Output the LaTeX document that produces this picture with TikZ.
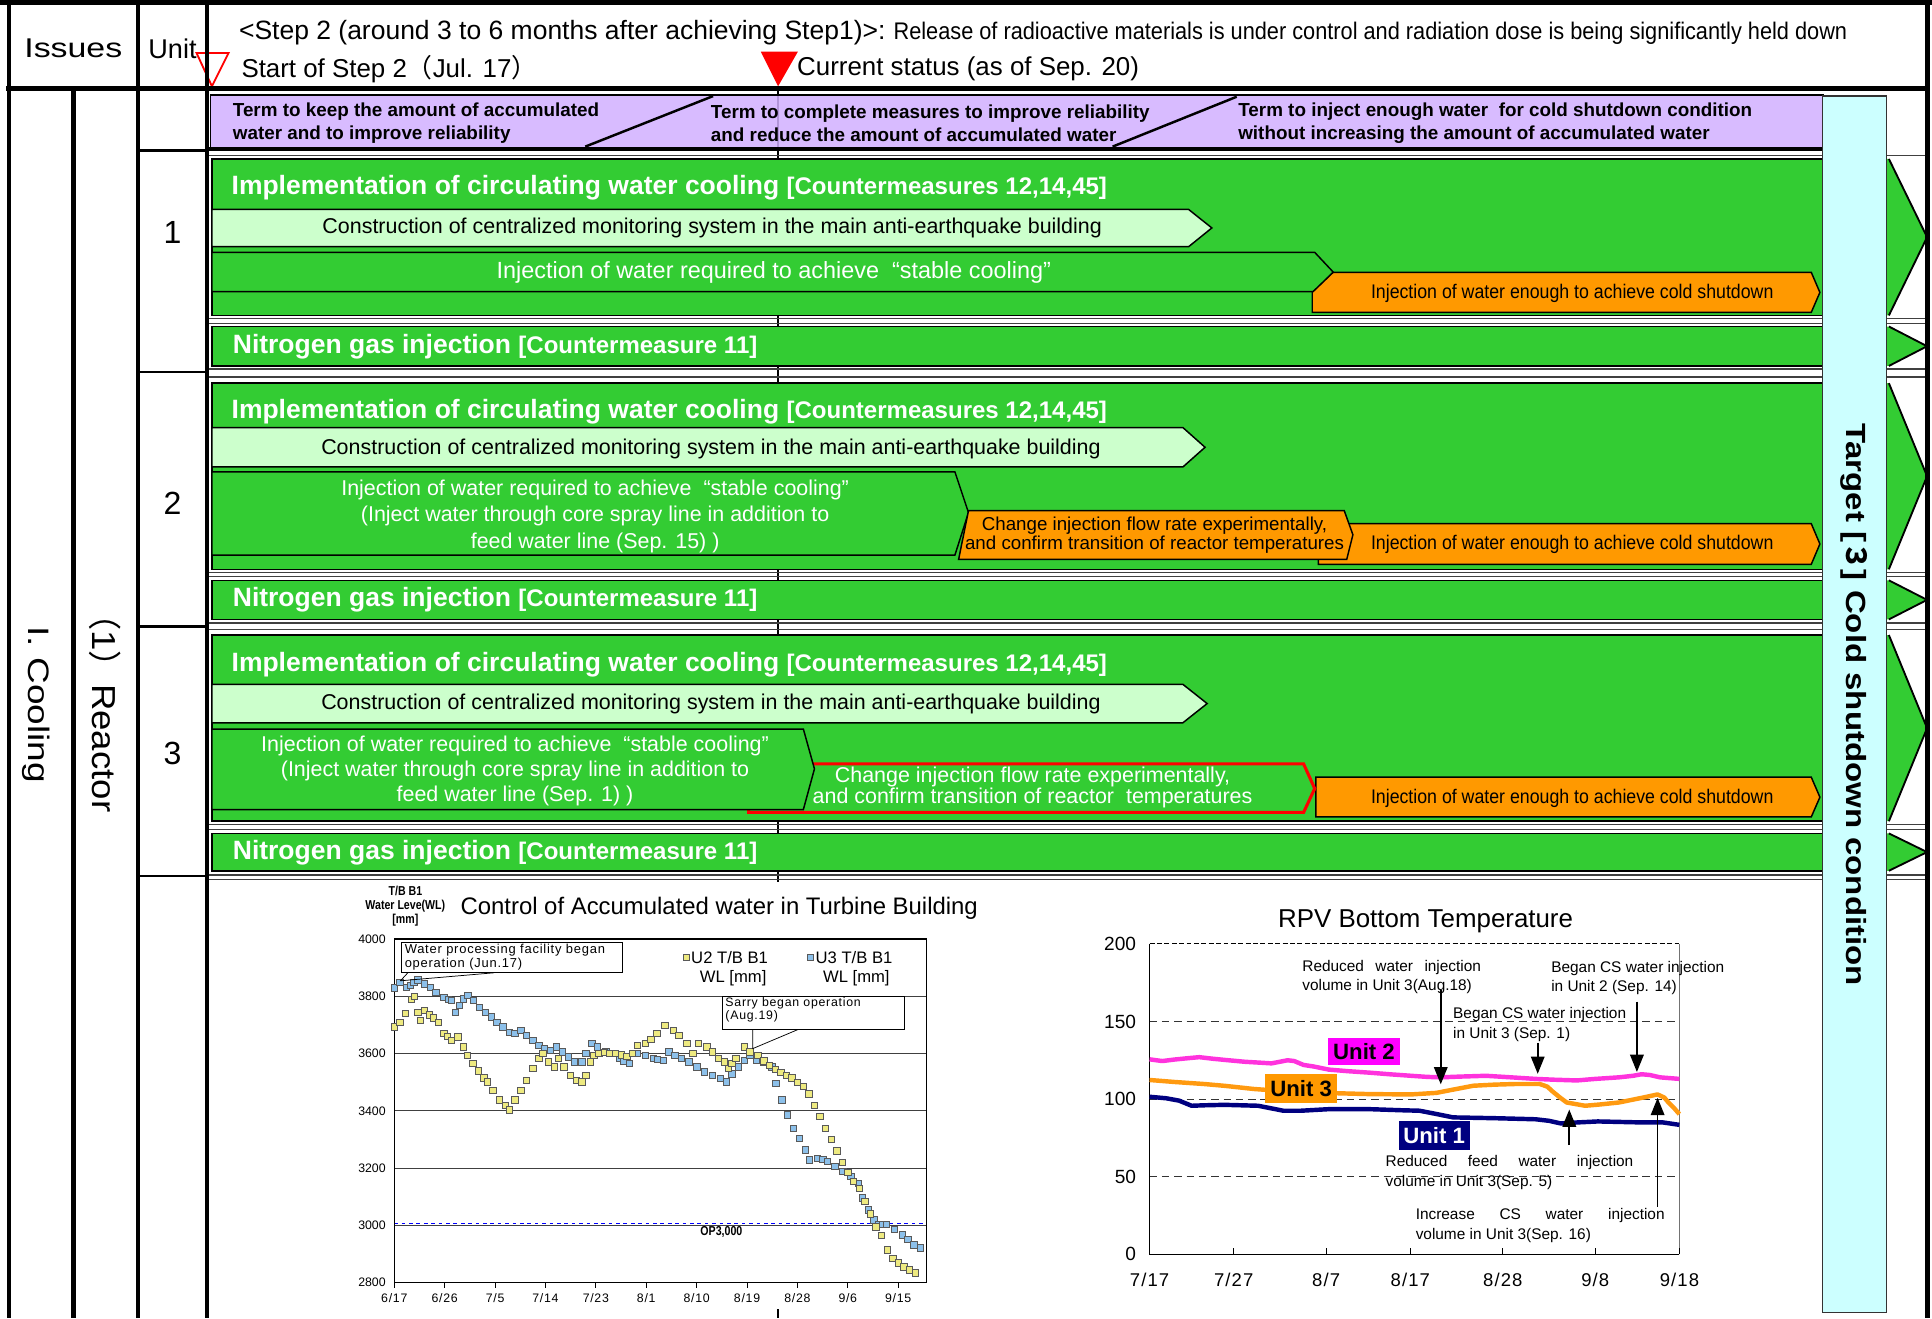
\documentclass[tikz,border=0pt]{standalone}
\usepackage{fontspec}
\setmainfont{Liberation Sans}
\newfontfamily\cjkf{Noto Sans CJK JP}
\newfontfamily\fA[FakeStretch=0.82]{Liberation Sans}
\newfontfamily\fB[FakeStretch=0.9]{Liberation Sans}
\newfontfamily\fC[FakeStretch=0.905]{Liberation Sans}
\newfontfamily\fW[FakeStretch=1.25]{Liberation Sans}
\newfontfamily\fWb[FakeStretch=1.19]{Liberation Sans}
\newfontfamily\fWc[FakeStretch=1.1]{Liberation Sans}
\newfontfamily\fLS[LetterSpace=6]{Liberation Sans}
\usetikzlibrary{arrows.meta}
\newcommand\fsz[1]{\fontsize{#1}{#1}\selectfont}
\newcommand\fszl[2]{\fontsize{#1}{#2}\selectfont}
\definecolor{grn}{HTML}{33CC33}
\definecolor{lgrn}{HTML}{CCFFCC}
\definecolor{org}{HTML}{FF9900}
\definecolor{pur}{HTML}{D2B0FF}
\definecolor{cyn}{HTML}{CCFFFF}
\definecolor{mag}{HTML}{FF33DD}
\definecolor{magb}{HTML}{FF00FF}
\definecolor{nav}{HTML}{000080}
\definecolor{u2y}{HTML}{EEEA80}
\definecolor{u3b}{HTML}{8CC0EA}
\definecolor{u3o}{HTML}{FF9A10}
\tikzset{
  every node/.style={inner sep=0pt, outer sep=0pt},
  frm/.style={line width=4pt},
  cell/.style={line width=2pt},
  sepl/.style={line width=1.2pt, black!75},
  gblk/.style={fill=grn, draw=black, line width=1.2pt},
  lgar/.style={fill=lgrn, draw=black, line width=1.2pt},
  obox/.style={fill=org, draw=black, line width=1.2pt},
  ttl/.style={anchor=west, text=white, font=\bfseries\fsz{21.5}},
  ltxt/.style={font=\fsz{17.4}},
  wtxt/.style={text=white, align=center},
  otxt/.style={font=\fB\fsz{16}},
  ptxt/.style={anchor=west, align=left, font=\bfseries\fszl{15.3}{19}},
  ann/.style={anchor=north west, align=left, font=\fszl{12.5}{16}},
  arr/.style={-{Triangle[width=11pt,length=14pt]}, line width=1.3pt},
  u2m/.style={fill=u2y, draw=black!65, line width=0.4pt},
  u3m/.style={fill=u3b, draw=black!65, line width=0.4pt},
  rarw/.style={fill=grn},
  rarl/.style={line width=1.5pt},
}
\begin{document}
\begin{tikzpicture}[x=1pt,y=-1pt]
\useasboundingbox (0,0) rectangle (1568,1070);
\fill[white] (0,0) rectangle (1568,1070);

% current status line
\coordinate (cs1) at (631.5,72);
\coordinate (cs2) at (631.5,1070);
\draw[line width=1.5pt] (cs1) -- (cs2);

% separator lines
\foreach \yy in {126,258.5,262.5,299.5,306,464.5,468,505.5,511,669,673,710,714}
  \draw[sepl] (168,\yy) -- (1564,\yy);
\foreach \yy in {122,302,508.5,711}
  \draw[cell] (112,\yy) -- (168,\yy);

% purple band
\fill[pur, fill opacity=0.85] (170.8,77) rectangle (1480,119.5);
\draw[line width=1.2pt] (170.8,77) rectangle (1480,119.5);
\draw[line width=3pt] (168,121) -- (1480,121);
\draw[line width=2pt] (475,119) -- (578.7,78);
\draw[line width=2pt] (903,119) -- (1003.7,78.5);
\node[ptxt] (p1) at (189,100) {Term to keep the amount of accumulated\\water and to improve reliability};
\node[ptxt] (p2) at (577,100) {Term to complete measures to improve reliability\\and reduce the amount of accumulated water};
\node[ptxt] (p3) at (1005,100) {Term to inject enough water~ for cold shutdown condition\\without increasing the amount of accumulated water};

% ---------- Unit 1 ----------
\draw[gblk] (172,129) rectangle (1480,256);
\node[ttl] (t1) at (188,152) {Implementation of circulating water cooling {\fsz{19.5}[Countermeasures 12,14,45]}};
\draw[lgar] (172,170) -- (964.7,170) -- (983.5,185) -- (964.7,200.2) -- (172,200.2) -- cycle;
\node[ltxt] (c1) at (578,185.3) {Construction of centralized monitoring system in the main anti-earthquake building};
\draw[gblk] (172,204.8) -- (1067,204.8) -- (1082,220.8) -- (1067,236.7) -- (172,236.7) -- cycle;
\node[wtxt, font=\fsz{19}] (s1) at (628,221.5) {Injection of water required to achieve~ “stable cooling”};
\draw[obox] (1082,221) -- (1470,221) -- (1477,237.3) -- (1470,253.5) -- (1065,253.5) -- (1065,237.3) -- cycle;
\node[otxt] (o1) at (1276,238) {Injection of water enough to achieve cold shutdown};
\draw[gblk] (172,265) rectangle (1480,297);
\node[ttl] (n1) at (189,281.4) {Nitrogen gas injection {\fsz{19.5}[Countermeasure 11]}};

% ---------- Unit 2 ----------
\draw[gblk] (172,311) rectangle (1480,462);
\node[ttl] (t2) at (188,334) {Implementation of circulating water cooling {\fsz{19.5}[Countermeasures 12,14,45]}};
\draw[lgar] (172,347) -- (960,347) -- (978,363) -- (960,379) -- (172,379) -- cycle;
\node[ltxt] (c2) at (577,364) {Construction of centralized monitoring system in the main anti-earthquake building};
\draw[gblk] (172,383) -- (775,383) -- (786,416) -- (775,450.5) -- (172,450.5) -- cycle;
\node[wtxt, font=\fszl{17.4}{21.5}] (s2) at (483,419) {Injection of water required to achieve~ “stable cooling”\\(Inject water through core spray line in addition to\\feed water line (Sep. 15) )};
\draw[obox] (1070,425) -- (1470,425) -- (1477,441.5) -- (1470,458) -- (1070,458) -- cycle;
\node[otxt] (o2b) at (1276,442) {Injection of water enough to achieve cold shutdown};
\draw[obox] (786,414.5) -- (1091,414.5) -- (1098,434) -- (1093,454) -- (778,454) -- cycle;
\node[align=center, font=\fszl{15.2}{15.5}] (o2a) at (937,434) {Change injection flow rate experimentally,\\and confirm transition of reactor temperatures};
\draw[gblk] (172,471) rectangle (1480,502.7);
\node[ttl] (n2) at (189,487) {Nitrogen gas injection {\fsz{19.5}[Countermeasure 11]}};

% ---------- Unit 3 ----------
\draw[gblk] (172,515.4) rectangle (1480,666.5);
\node[ttl] (t3) at (188,539.8) {Implementation of circulating water cooling {\fsz{19.5}[Countermeasures 12,14,45]}};
\draw[lgar] (172,555.4) -- (960,555.4) -- (979.7,571) -- (960,586.6) -- (172,586.6) -- cycle;
\node[ltxt] (c3) at (577,571) {Construction of centralized monitoring system in the main anti-earthquake building};
\draw[obox] (1068,630.7) -- (1470,630.7) -- (1477,647) -- (1470,663) -- (1068,663) -- cycle;
\node[otxt] (o3) at (1276,648) {Injection of water enough to achieve cold shutdown};
\draw[fill=grn, draw=red, line width=2.5pt] (607.6,620) -- (1058,620) -- (1067,640) -- (1058,659.3) -- (607.6,659.3) -- cycle;
\node[wtxt, font=\fszl{17.4}{17.6}] (r3) at (838,639.2) {Change injection flow rate experimentally,\\and confirm transition of reactor~ temperatures};
\draw[gblk] (172,591.7) -- (652,591.7) -- (661,624) -- (652,657) -- (172,657) -- cycle;
\node[wtxt, font=\fszl{17.4}{20.3}] (s3) at (418,626) {Injection of water required to achieve~ “stable cooling”\\(Inject water through core spray line in addition to\\feed water line (Sep. 1) )};
\draw[gblk] (172,676.4) rectangle (1480,706.7);
\node[ttl] (n3) at (189,692) {Nitrogen gas injection {\fsz{19.5}[Countermeasure 11]}};

% right arrows
\foreach \ta/\tb in {129/256, 265/297, 311/462, 471/502.7, 515.4/666.5, 676.4/706.7}{
  \fill[rarw] (1531,\ta) -- (1533,\ta) -- (1564,{(\ta+\tb)/2}) -- (1533,\tb) -- (1531,\tb) -- cycle;
  \draw[rarl] (1533,\ta) -- (1564,{(\ta+\tb)/2}) -- (1533,\tb);
}

% cyan target bar
\filldraw[fill=cyn, draw=black!80, line width=1.2pt] (1479,78) rectangle (1531,1065);
\node[rotate=-90, font=\fWb\bfseries\fsz{22.5}] (tgt) at (1505,572) {Target [{\cjkf ３}] Cold shutdown condition};

% ---------- header ----------
\node[anchor=west, font=\fsz{21.5}] (h1) at (194,26.5) {<Step 2 (around 3 to 6 months after achieving Step1)>:{\fC\fsz{19.5} Release of radioactive materials is under control and radiation dose is being significantly held down}};
\node[anchor=west, font=\fsz{21}] (h2) at (196,56) {Start of Step 2{\cjkf （}Jul. 17{\cjkf ）}};
\node[anchor=west, font=\fsz{21}] (h3) at (647,56) {Current status (as of Sep. 20)};
\draw[red, line width=1.5pt] (159.5,43) -- (185.5,43) -- (172,70) -- cycle;
\fill[red] (617.5,42) -- (647.5,42) -- (631.5,70) -- cycle;
\node[font=\fW\fsz{22}] (iss) at (59.5,39.5) {Issues};
\node[font=\fsz{22}] (unt) at (140,39.5) {Unit};
\node[rotate=-90, font=\fW\fsz{24}] (cool) at (29,572) {I. Cooling};
\node[rotate=-90, font=\fWc\fsz{27}] (reac) at (85,572) {{\cjkf （}1{\cjkf ）}Reactor};
\node[font=\fsz{26}] (u1) at (140,189) {1};
\node[font=\fsz{26}] (u2) at (140,408.7) {2};
\node[font=\fsz{26}] (u3) at (140,611.6) {3};

% ---------- chart 1 ----------
\fill[white] (285,716) rectangle (800,1062);
\node[align=center, font=\fA\bfseries\fszl{10.5}{11.2}] (ylab) at (329,735.5) {T/B B1\\Water Leve(WL)\\{[mm]}};
\node[anchor=west, font=\fsz{19.4}] (ct1) at (373.8,737.5) {Control of Accumulated water in Turbine Building};
\begin{scope}[shift={(320,1041)}, x=4.544pt, y=0.2325pt]
  \foreach \v in {200,400,600,800,1000}
    \draw[line width=0.7pt, black!75] (0,\v) -- (95.07,\v);
  \draw[blue, dashed, line width=0.9pt] (0,206) -- (95.07,206);
  \draw[line width=1pt] (0,0) rectangle (95.07,1200);
  \foreach \v/\lab in {0/2800,200/3000,400/3200,600/3400,800/3600,1000/3800,1200/4000}
    \node[anchor=east, font=\fsz{10}] (ya\lab) at ([xshift=-7pt]0,\v) {\lab};
  \foreach \d/\m/\dd in {0/6/17,9/6/26,18/7/5,27/7/14,36/7/23,45/8/1,54/8/10,63/8/19,72/8/28,81/9/6,90/9/15}{
    \draw[line width=0.7pt] (\d,0) -- ++(0,-4pt);
    \node[anchor=north, font=\fLS\fsz{10}] (xa\d) at ([yshift=-9pt]\d,0) {\m/\dd};
  }
  \foreach \d/\v in {0/3830,1/3849,2.1/3832,2.8/3838,3.5/3849,4.2/3857,5.3/3843,6.4/3832,7.4/3814,8.8/3797,9.6/3790,10.2/3786,10.9/3745,11.6/3768,12.3/3791,13.1/3803,14.1/3786,15.2/3762,16.2/3745,17.3/3728,18.3/3710,19.4/3693,20.5/3675,21.5/3670,22.6/3681,23.6/3664,24.7/3646,25.8/3629,26.8/3617,27.9/3612,28.9/3623,30/3606,31.1/3588,32.1/3571,33.5/3571,34.2/3600,35.3/3635,36.3/3623,37.8/3606,39.2/3600,40.2/3583,41/3575,42/3565,43.4/3600,44.8/3594,46.2/3583,47/3580,48/3577,49/3606,50.1/3594,51.2/3583,52.6/3571,54/3554,55.4/3536,56.8/3525,58.2/3513,59.3/3501,60.3/3530,61.4/3554,62.5/3577,63.5/3594,64.6/3577,66/3571,67.4/3554,68.1/3496,69.2/3438,70.2/3386,71.3/3339,72.3/3304,73.4/3264,74.1/3229,75.5/3235,76.5/3230,77.3/3223,78.7/3206,80.1/3188,81.5/3171,82.9/3148,83.6/3096,84.7/3055,85.6/3020,86.4/3003,87.2/3003,87.9/3003,89.3/2986,90.7/2968,91.7/2951,92.8/2933,93.9/2922}
    \filldraw[u3m] (\d,\v-2800) ++(-2.6pt,-2.6pt) rectangle ++(5.2pt,5.2pt);
  \foreach \d/\v in {0/3693,1/3710,2/3740,3/3790,3.6/3800,4.2/3745,4.6/3716,5.3/3751,6.2/3735,7/3725,7.8/3710,8.8/3670,9.5/3660,10.2/3646,11.3/3658,12.3/3623,13/3594,14/3565,15/3540,16/3515,16.6/3501,17.6/3472,18.7/3438,19.8/3420,20.5/3403,21.5/3438,22.6/3472,23.6/3507,24.7/3548,25.8/3583,26.5/3600,27.5/3571,28.6/3554,29.3/3583,30.3/3554,31.4/3525,32.5/3507,33.5/3501,34.2/3525,35/3571,35.6/3594,36.5/3600,37.5/3605,38.5/3600,39.5/3600,40.5/3595,41.5/3590,42.5/3600,43.4/3629,44.8/3635,45.8/3650,46.9/3670,48.3/3699,49.8/3681,50.8/3664,52.2/3635,53.3/3600,54.3/3635,55.8/3623,56.8/3606,57.9/3583,58.9/3571,59.6/3548,60.3/3565,61/3583,62.5/3623,63.5/3606,64.9/3594,66/3575,67/3560,68/3545,69/3535,70/3525,71/3515,72/3500,73/3485,74/3460,75/3420,76/3380,77/3340,78/3300,79/3260,80/3220,81/3185,82/3155,83/3130,84/3085,85/3040,86/2995,87/2965,88/2915,89/2885,90/2870,91/2855,92/2845,93/2835}
    \filldraw[u2m] (\d,\v-2800) ++(-2.6pt,-2.6pt) rectangle ++(5.2pt,5.2pt);
\end{scope}
\node[font=\fA\bfseries\fsz{10.5}] (op) at (585.5,999.7) {OP3,000};
% legend
\filldraw[u2m] (554.5,774.5) rectangle (559,779);
\node[anchor=west, font=\fsz{13.5}] (lg2a) at (561,777) {U2 T/B B1};
\node[font=\fsz{13.5}] (lg2b) at (595,794) {WL [mm]};
\filldraw[u3m] (655.5,774.5) rectangle (660,779);
\node[anchor=west, font=\fsz{13.5}] (lg3a) at (662,777) {U3 T/B B1};
\node[font=\fsz{13.5}] (lg3b) at (695,794) {WL [mm]};
% callouts
\draw[line width=0.6pt] (331,789.5) -- (325,796) -- (401,789.5);
\filldraw[fill=white, draw=black, line width=0.6pt] (326,765) rectangle (505,789.5);
\node[anchor=north west, align=left, font=\fLS\fszl{10.5}{11.4}] (cb1) at (328.5,766.5) {Water processing facility began\\operation (Jun.17)};
\filldraw[fill=white, draw=black, line width=0.6pt] (586.5,808.6) rectangle (734,835.4);
\draw[line width=0.6pt] (611,835.4) -- (611,851) -- (648,835.4);
\node[anchor=north west, align=left, font=\fLS\fszl{10}{11}] (cb2) at (588.8,809.5) {Sarry began operation\\(Aug.19)};

% ---------- chart 2 ----------
\node[font=\fsz{21}] (ct2) at (1157,748) {RPV Bottom Temperature};
\begin{scope}[shift={(933,1018)}, x=6.825pt, y=1.26pt]
  \foreach \v in {50,100,150}
    \draw[dash pattern=on 6pt off 4pt, line width=0.8pt, black!80] (0,\v) -- (63,\v);
  \draw[dash pattern=on 4pt off 2pt, line width=0.9pt] (0,200) -- (63,200);
  \draw[line width=0.7pt, black!55] (63,0) -- (63,200);
  \draw[line width=1.2pt] (0,200) -- (0,0) -- (63,0);
  \foreach \v in {0,50,100,150,200}
    \node[anchor=east, font=\fsz{15.5}] (yb\v) at ([xshift=-11pt]0,\v) {\v};
  \foreach \d/\m/\dd in {0/7/17,10/7/27,21/8/7,31/8/17,42/8/28,53/9/8,63/9/18}{
    \draw[line width=0.8pt] (\d,0) -- ++(0,5pt);
    \node[anchor=north, font=\fLS\fsz{15}] (xb\d) at ([yshift=-15pt]\d,0) {\m/\dd};
  }
  \draw[mag, line width=3.6pt, line join=round] plot coordinates {(0,125.6) (1.5,124.5) (3,125.5) (4.5,126.3) (5.9,127) (7.5,126) (9,125.2) (11.4,124) (13,123.5) (14.5,123) (16.4,125) (17.2,124.5) (18.3,122) (19.5,121) (21.3,119) (23.5,118) (26.2,117) (28.5,116) (31.1,115) (33,114.3) (34.6,114) (37,114.5) (40,115) (43,114) (45.9,113) (48,112.5) (50.8,112) (53,113) (55.8,114) (57.5,115) (58.5,116) (59.5,115.5) (60.7,114) (63,113)};
  \draw[u3o, line width=3.6pt, line join=round] plot coordinates {(0,112.3) (3,111) (6.5,109.7) (9,108.5) (12.4,106.5) (15,105.5) (18.8,104.3) (22,103.8) (26.2,103.2) (31.1,103) (34.1,104) (36,106) (38.5,108.6) (41,109.3) (43.4,109.7) (46.4,109.7) (47.3,108) (47.9,105) (48.8,101) (49.6,97.8) (51.8,95.7) (53.5,96.5) (55.8,97.8) (58.7,101) (60.4,103) (61.2,101) (61.7,97.8) (62.4,94) (63,90.3)};
  \draw[nav, line width=3.6pt, line join=round] plot coordinates {(0,101.5) (2,100.5) (3.5,99) (5,95.7) (6.5,96) (8.9,96.3) (12.9,95.7) (14.5,94) (15.9,92.5) (18,92.5) (21.3,93.5) (26.2,93.5) (30,92.8) (32.1,92.5) (34,90.5) (36.1,88.2) (41,87.7) (45.9,87) (47.5,86) (48.9,84.3) (51,85) (53.3,85.6) (58.2,85) (61,85) (63,83.4)};
\end{scope}
\node[fill=magb, font=\bfseries\fsz{18}, minimum width=58pt, minimum height=22pt] (lu2) at (1107,853.5) {Unit 2};
\node[fill=org, font=\bfseries\fsz{18}, minimum width=58pt, minimum height=23pt] (lu3) at (1056,883.5) {Unit 3};
\node[fill=nav, text=white, font=\bfseries\fsz{18}, minimum width=58pt, minimum height=23pt] (lu1) at (1164,921.5) {Unit 1};

\node[ann] (an1) at (1057,779) {\makebox[145pt][s]{Reduced water injection}\\volume in Unit 3(Aug.18)};
\node[ann] (an2) at (1259,780) {Began CS water injection\\in Unit 2 (Sep. 14)};
\node[ann] (an3) at (1179.4,817.5) {Began CS water injection\\in Unit 3 (Sep. 1)};
\node[ann] (an4) at (1124.6,938) {\makebox[201pt][s]{Reduced feed water injection}\\volume in Unit 3(Sep. 5)};
\node[ann] (an5) at (1149,981) {\makebox[202pt][s]{Increase CS water injection}\\volume in Unit 3(Sep. 16)};
\coordinate (a1s) at (1169.3,803.5); \coordinate (a1e) at (1169.3,880);
\coordinate (a2s) at (1328.5,813); \coordinate (a2e) at (1328.5,870);
\coordinate (a3s) at (1248,846.3); \coordinate (a3e) at (1248,871.5);
\coordinate (a4s) at (1273.6,929.3); \coordinate (a4e) at (1273.6,900.5);
\coordinate (a5s) at (1345.3,979.4); \coordinate (a5e) at (1345.3,891);
\draw[arr] (a1s) -- (a1e);
\draw[arr] (a2s) -- (a2e);
\draw[arr] (a3s) -- (a3e);
\draw[arr] (a4s) -- (a4e);
\draw[arr] (a5s) -- (a5e);

% ---------- frame lines ----------
\draw[frm] (7.3,0) -- (7.3,1070);
\draw[frm] (0,2) -- (1568,2);
\draw[frm] (1564,0) -- (1564,1070);
\draw[frm] (5,72) -- (1566,72);
\draw[frm] (59.5,72) -- (59.5,1070);
\draw[frm] (112,0) -- (112,1070);
\draw[frm] (168,0) -- (168,1070);
\end{tikzpicture}
\end{document}
